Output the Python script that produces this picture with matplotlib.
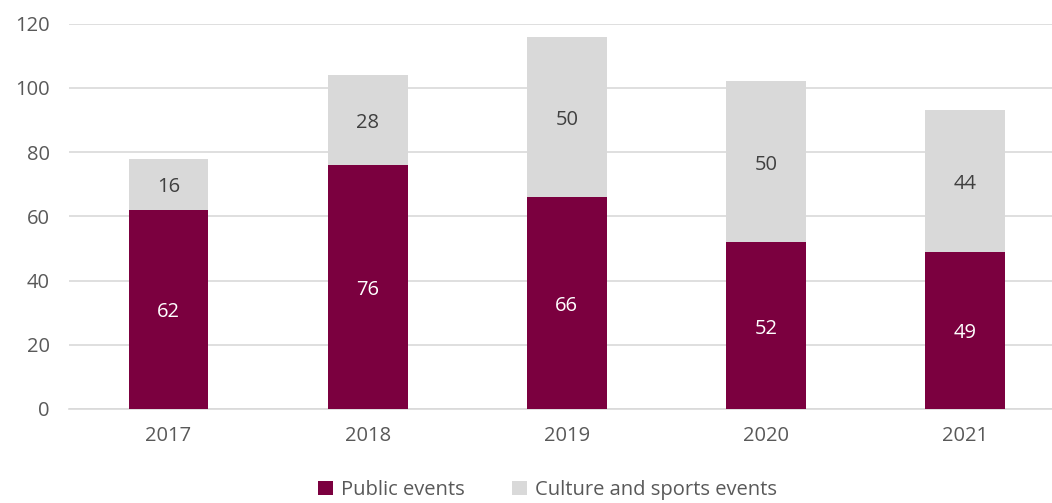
import matplotlib
matplotlib.use("Agg")
import matplotlib.pyplot as plt
import matplotlib.transforms as mtransforms
import numpy as np

years = ["2017", "2018", "2019", "2020", "2021"]
public_events = [62, 76, 66, 52, 49]
culture_sports = [16, 28, 50, 50, 44]
y_ticks = [0, 20, 40, 60, 80, 100, 120]

MAROON = "#7B003F"
GREY = "#D9D9D9"
TXT = "#595959"

plt.rcParams['font.family'] = ['Open Sans', 'DejaVu Sans']

W, H = 1052, 503
fig = plt.figure(figsize=(W / 100, H / 100), dpi=100)
left = 69 / W
right = 1064.6 / W
bottom = (H - 409) / H
top = (H - 23.7) / H
ax = fig.add_axes([left, bottom, right - left, top - bottom])

x = np.arange(len(years))
bw = 0.40
b1 = ax.bar(x, public_events, bw, color=MAROON, label="Public events", zorder=3)
b2 = ax.bar(x, culture_sports, bw, bottom=public_events, color=GREY,
            label="Culture and sports events", zorder=3)

lab_tr = mtransforms.offset_copy(ax.transData, fig=fig, x=0, y=-3, units="dots")
for xi, p, c in zip(x, public_events, culture_sports):
    ax.text(xi, p / 2, str(p), ha="center", va="center", color="white",
            fontsize=14.5, zorder=4, transform=lab_tr)
    ax.text(xi, p + c / 2, str(c), ha="center", va="center", color="#404040",
            fontsize=14.5, zorder=4, transform=lab_tr)

ax.set_xlim(-0.5, len(years) - 0.5)
ax.set_ylim(0, 120)
ax.set_yticks(y_ticks)
ax.set_yticklabels([str(v) for v in y_ticks])
ax.set_xticks(x)
ax.set_xticklabels(years)
ax.tick_params(axis="both", length=0, labelsize=14.5, colors=TXT)
ax.tick_params(axis="y", pad=14)
ax.tick_params(axis="x", pad=12)
ax.grid(axis="y", color="#D9D9D9", linewidth=1.2, zorder=0)
for s in ["top", "right", "left"]:
    ax.spines[s].set_visible(False)
ax.spines["bottom"].set_color("#D9D9D9")
ax.spines["bottom"].set_linewidth(1.2)

fig.legend(handles=[b1, b2], loc="center", bbox_to_anchor=(547.5 / W, 13 / H),
           ncol=2, frameon=False, fontsize=14.5, labelcolor=TXT,
           handlelength=0.75, handleheight=0.75, handletextpad=0.4, columnspacing=2.3,
           borderpad=0.2)

fig.savefig("out.png", dpi=100)
